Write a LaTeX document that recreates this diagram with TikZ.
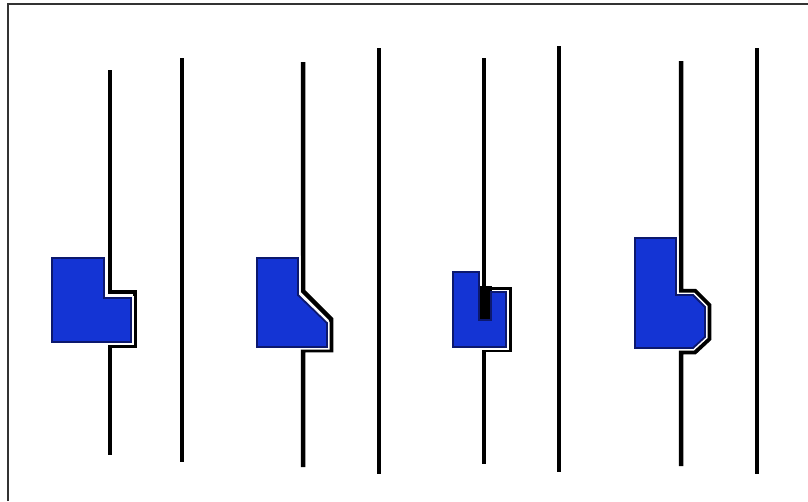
\documentclass[tikz,border=0pt]{standalone}
\begin{document}
\begin{tikzpicture}[x=1pt,y=-1pt,
  rod/.style={draw=black,line width=4.5pt},
  frame/.style={draw=black!80,line width=1.3pt},
  halo/.style={draw=white,line width=5pt,line join=miter},
  blk/.style={fill=blockblue,draw=blockedge,line width=1.8pt,line join=miter}]
\definecolor{blockblue}{RGB}{20,52,212}
\definecolor{blockedge}{RGB}{12,24,110}
\useasboundingbox (0,0) rectangle (808,501);
\fill[white] (0,0) rectangle (808,501);
% frame (top and left only)
\draw[frame] (8,501) -- (8,4) -- (808,4);
% plain rods
\draw[rod] (182,58) -- (182,462);
\draw[rod] (379,48) -- (379,474);
\draw[rod] (559,46) -- (559,472);
\draw[rod] (757,48) -- (757,474);
% shape 1
\draw[rod] (110,70) -- (110,292) -- (135,292) -- (135,346) -- (110,346) -- (110,455);
\draw[halo] (52,258) -- (104,258) -- (104,298) -- (131,298) -- (131,342) -- (52,342) -- cycle;
\draw[blk] (52,258) -- (104,258) -- (104,298) -- (131,298) -- (131,342) -- (52,342) -- cycle;
% shape 2
\draw[rod] (303,62) -- (303,291) -- (331,319) -- (331,350) -- (303,350) -- (303,467);
\draw[halo] (257,258) -- (298,258) -- (298,295) -- (327,323) -- (327,347) -- (257,347) -- cycle;
\draw[blk] (257,258) -- (298,258) -- (298,295) -- (327,323) -- (327,347) -- (257,347) -- cycle;
% shape 3
\draw[rod] (484,58) -- (484,289) -- (510,289) -- (510,350) -- (484,350) -- (484,464);
\draw[halo] (453,272) -- (479,272) -- (479,320) -- (491,320) -- (491,292) -- (506,292) -- (506,347) -- (453,347) -- cycle;
\fill[black] (478,286) rectangle (492,321);
\draw[blk] (453,272) -- (479,272) -- (479,320) -- (491,320) -- (491,292) -- (506,292) -- (506,347) -- (453,347) -- cycle;
% shape 4
\draw[rod] (681,61) -- (681,291) -- (695,291) -- (709,305) -- (709,339) -- (695,352) -- (681,352) -- (681,466);
\draw[halo] (635,238) -- (676,238) -- (676,295) -- (693,295) -- (705,307) -- (705,337) -- (693,348) -- (635,348) -- cycle;
\draw[blk] (635,238) -- (676,238) -- (676,295) -- (693,295) -- (705,307) -- (705,337) -- (693,348) -- (635,348) -- cycle;
\end{tikzpicture}
\end{document}
